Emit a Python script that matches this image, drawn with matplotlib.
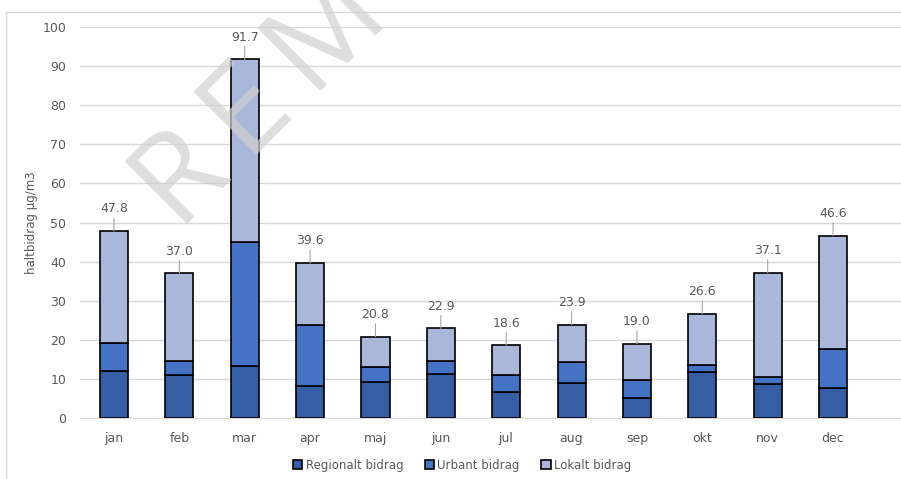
import matplotlib.pyplot as plt
from matplotlib.patches import Rectangle
import numpy as np

months = ['jan', 'feb', 'mar', 'apr', 'maj', 'jun', 'jul', 'aug', 'sep', 'okt', 'nov', 'dec']
regionalt = [11.9, 11.0, 13.4, 8.1, 9.3, 11.2, 6.6, 8.9, 5.2, 11.8, 8.7, 7.8]
urbant = [7.3, 3.7, 31.5, 15.7, 3.7, 3.3, 4.3, 5.3, 4.5, 1.8, 1.9, 9.8]
lokalt = [28.6, 22.3, 46.8, 15.8, 7.8, 8.4, 7.7, 9.7, 9.3, 13.0, 26.5, 29.0]
yticks = [0, 10, 20, 30, 40, 50, 60, 70, 80, 90, 100]

txt = '#595959'
grid = '#D9D9D9'

fig = plt.figure(figsize=(9.01, 4.79), dpi=100)
# yttre ram runt diagrammet
fig.patches.append(Rectangle((6 / 901, -0.1), 1.2, 1 - 12 / 479 + 0.1, transform=fig.transFigure,
                             fill=False, edgecolor=grid, lw=1.0))

ax = fig.add_axes([80 / 901, 1 - 418 / 479, 1 - 80 / 901, (418 - 27) / 479])

x = np.arange(len(months))
w = 0.43
reg = np.array(regionalt)
urb = np.array(urbant)
lok = np.array(lokalt)
ax.bar(x, reg, w, color='#355EA5', edgecolor='black', lw=1.2, label='Regionalt bidrag', zorder=3)
ax.bar(x, urb, w, bottom=reg, color='#4472C4', edgecolor='black', lw=1.2, label='Urbant bidrag', zorder=3)
ax.bar(x, lok, w, bottom=reg + urb, color='#A9B7DA', edgecolor='black', lw=1.2, label='Lokalt bidrag', zorder=3)

tot = reg + urb + lok
for i, t in enumerate(tot):
    ax.annotate('%.1f' % t, xy=(i, t), xytext=(0, 16), textcoords='offset points',
                ha='center', va='center', fontsize=9, color=txt, zorder=4,
                arrowprops=dict(arrowstyle='-', color='#A6A6A6', lw=0.8, shrinkA=0, shrinkB=0))

ax.set_xlim(-0.52, 12.04)
ax.set_ylim(0, 100)
ax.set_yticks(yticks)
ax.set_xticks(x)
ax.set_xticklabels(months)
ax.tick_params(axis='both', length=0, colors=txt, labelsize=9)
ax.tick_params(axis='x', pad=10)
ax.tick_params(axis='y', pad=10)
ax.grid(axis='y', color=grid, lw=1.0, zorder=0)
for s in ['top', 'right', 'left']:
    ax.spines[s].set_visible(False)
ax.spines['bottom'].set_color(grid)
ax.set_ylabel('haltbidrag µg/m3', fontsize=8.5, color=txt, labelpad=3)

fig.legend(loc='center', bbox_to_anchor=(462 / 901, 1 - 465 / 479), ncol=3, frameon=False,
           fontsize=8.5, labelcolor=txt, handlelength=0.8, handleheight=0.8, handletextpad=0.3,
           columnspacing=1.8)

# vattenstämpel (glesare bokstäver med smalt mellanslag)
fig.text(346 / 901, 1 - 20 / 479, '\u2009'.join('REMISS'), rotation=45, ha='center', va='center',
         rotation_mode='anchor', fontsize=90, family='Open Sans',
         color='#D0D0D0', alpha=0.7, zorder=10)

fig.savefig('out.png', dpi=100)
